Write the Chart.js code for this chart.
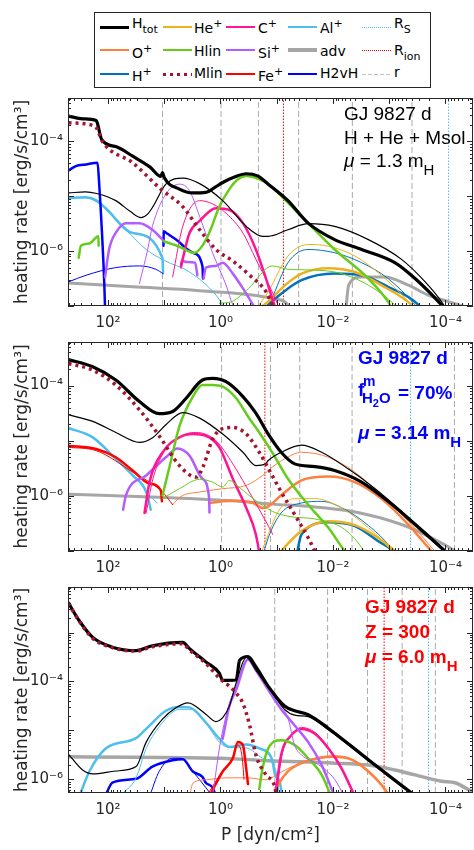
<!DOCTYPE html>
<html><head><meta charset="utf-8">
<script src="https://cdn.jsdelivr.net/npm/chart.js@4/dist/chart.umd.min.js"></script>
<style>
body{margin:0;width:474px;height:850px;background:#fff;position:relative;overflow:hidden;font-family:'DejaVu Sans',sans-serif}
canvas{position:absolute;left:0}
#leg{position:absolute;left:94px;top:12px;width:337px;height:76px;border:1px solid #262626;box-sizing:border-box;background:#fff;z-index:5}
.ls{position:absolute;width:29px}
.lt{position:absolute;font-size:14px;line-height:14px;color:#000;white-space:nowrap}
.sm{font-size:11px;position:relative}
.ann{position:absolute;font-family:'Liberation Sans',Arial,sans-serif;font-size:19px;line-height:19px;white-space:nowrap;z-index:4}
</style></head><body>
<div id="leg"></div>
<canvas id="c1" width="474" height="250" style="top:84px"></canvas>
<canvas id="c2" width="474" height="251" style="top:328px"></canvas>
<canvas id="c3" width="474" height="277" style="top:573px"></canvas>

<div class="ann" style="left:344px;top:104px;color:#000">GJ 9827 d</div>
<div class="ann" style="left:344px;top:128px;color:#000">H + He + Msol</div>
<div class="ann" style="left:344px;top:151px;color:#000"><i>μ</i> = 1.3 m<span style="font-size:15px;position:relative;top:8px">H</span></div>

<div class="ann" style="left:358px;top:348px;color:#0000FF;font-weight:bold">GJ 9827 d</div>
<div class="ann" style="left:358px;top:380px;color:#0000FF;font-weight:bold">f</div>
<div class="ann" style="left:363px;top:374px;color:#0000FF;font-weight:bold;font-size:14px;line-height:14px">m</div>
<div class="ann" style="left:362px;top:390px;color:#0000FF;font-weight:bold;font-size:15px;line-height:15px">H<span style="font-size:11px;position:relative;top:4px">2</span>O</div>
<div class="ann" style="left:398px;top:383px;color:#0000FF;font-weight:bold">= 70%</div>
<div class="ann" style="left:358px;top:423px;color:#0000FF;font-weight:bold"><i>μ</i> = 3.14 m<span style="font-size:15px;position:relative;top:8px">H</span></div>

<div class="ann" style="left:365px;top:597px;color:#FF0000;font-weight:bold">GJ 9827 d</div>
<div class="ann" style="left:365px;top:622px;color:#FF0000;font-weight:bold">Z = 300</div>
<div class="ann" style="left:365px;top:647px;color:#FF0000;font-weight:bold"><i>μ</i> = 6.0 m<span style="font-size:15px;position:relative;top:8px">H</span></div>

<script>
// ---- axes (log10 units) ----
const X_RANGE = [-4.49, 2.71];          // log10 P, axis reversed
const Y_RANGE_12 = [-7.0, -3.21];       // log10 heating rate, panels 1-2
const Y_RANGE_3 = [-6.28, -2.07];       // panel 3
const X_TICKS = [2, 0, -2, -4];
const Y_TICKS = [-6, -4];
const TICK_TEXT = {'2':'10\u00B2','0':'10\u2070','-2':'10\u207B\u00B2','-4':'10\u207B\u2074','-6':'10\u207B\u2076'};

// ---- Panel 1 : H + He + Msol  ([log10 P, log10 rate]; null = gap) ----
const P1_Htot = [[2.70,-3.54],[2.45,-3.59],[2.21,-3.62],[2.19,-3.66],[2.11,-3.97],[1.85,-4.10],[1.56,-4.27],[1.25,-4.47],[1.06,-4.64],[1.03,-4.57],[1.0,-4.66],[0.73,-4.87],[0.49,-4.94],[0.26,-4.93],[0.10,-4.84],[-0.04,-4.75],[-0.25,-4.65],[-0.46,-4.59],[-0.66,-4.63],[-0.85,-4.78],[-1.2,-5.08],[-1.56,-5.49],[-2.03,-5.79],[-2.51,-5.97],[-3.1,-6.21],[-3.46,-6.5],[-3.93,-6.98],[-4.2,-7.3]];
const P1_HtotThin = [[2.70,-4.94],[2.4,-4.92],[2.2,-4.95],[1.86,-5.08],[1.6,-5.28],[1.41,-5.39],[1.3,-5.33],[1.2,-5.19],[0.97,-4.78],[0.67,-4.67],[0.37,-4.77],[-0.04,-5.08],[-0.46,-5.55],[-0.75,-5.73],[-0.85,-5.73],[-1.2,-5.61],[-1.56,-5.5],[-2.03,-5.55],[-2.63,-5.79],[-3.22,-6.15],[-3.64,-6.56],[-3.93,-6.92],[-4.1,-7.2]];
const P1_Mlin = [[2.70,-3.66],[2.27,-3.71],[2.2,-3.76],[2.15,-3.88],[2.1,-4.0],[1.56,-4.39],[1.06,-4.87],[0.67,-5.19],[0.37,-5.61],[0.08,-5.97],[-0.22,-6.18],[-0.52,-6.44],[-0.81,-6.74],[-0.92,-6.98],[-1.0,-7.2]];
const P1_Al = [[2.70,-5.03],[2.4,-5.02],[2.2,-5.08],[2.04,-5.22],[1.56,-5.67],[1.03,-6.13],[1.02,-6.4]];
const P1_AlThin = [[2.70,-5.03],[2.4,-5.03],[2.15,-5.14],[1.74,-5.55],[1.32,-5.97],[1.0,-6.17],[0.55,-6.38],[0.08,-6.8],[-0.08,-7.05]];
const P1_H2vH = [[2.70,-4.53],[2.57,-4.45],[2.39,-4.42],[2.185,-4.39],[2.16,-4.7],[2.065,-6.59],[2.05,-7.1],null,[1.013,-5.9],[1.008,-5.64],[0.95,-5.68],[0.79,-5.79],[0.49,-6.03],[0.32,-6.27],[0.31,-6.5]];
const P1_H2vHThin = [[2.70,-6.56],[2.39,-6.44],[1.86,-6.3],[1.44,-6.27],[1.15,-6.33],[1.02,-6.41]];
const P1_Hlin = [[2.52,-6.12],[2.48,-5.90],[2.33,-5.86],[2.17,-5.73],[2.165,-5.9],null,[1.01,-5.82],[0.73,-5.92],[0.46,-6.03],[0.32,-5.9],[0.2,-5.67],[0.02,-5.19],[-0.16,-4.87],[-0.3,-4.7],[-0.46,-4.63],[-0.69,-4.69],[-0.85,-4.78],[-1.44,-5.37],[-2.03,-5.97],[-2.63,-6.5],[-2.98,-6.92],[-3.05,-7.05]];
const P1_HlinThin = [[0.02,-6.95],[-0.2,-6.92],[-0.5,-6.68],[-0.92,-6.27],[-1.2,-6.33],[-1.44,-6.34],[-2.03,-6.38],[-2.63,-6.62],[-3.1,-6.98],[-3.2,-7.1]];
const P1_Si = [[2.05,-6.47],[1.98,-5.97],[1.85,-5.65],[1.68,-5.49],[1.44,-5.49],[1.21,-5.61],[1.03,-5.79],null,[0.70,-6.3],[0.69,-6.18],[0.6,-6.2],[0.45,-6.21],[0.41,-6.44],null,[0.30,-6.5],[0.26,-6.3],[0.08,-6.27],[-0.04,-6.21],[-0.22,-6.41],[-0.4,-6.68],[-0.58,-6.98],[-0.65,-7.1]];
const P1_SiThin = [[1.44,-6.59],[1.3,-6.0],[1.21,-5.55],[0.97,-4.96],[0.73,-4.78],[0.55,-4.9],[0.37,-5.37],[0.14,-6.03],[-0.1,-6.62],[-0.22,-6.98],[-0.3,-7.1]];
const P1_C = [[0.70,-6.27],[0.55,-5.67],[0.37,-5.45],[0.08,-5.22],[-0.16,-5.25],[-0.4,-5.49],[-0.63,-5.97],[-0.81,-6.5],[-0.92,-6.86],[-1.0,-7.1]];
const P1_CThin = [[0.85,-6.47],[0.67,-5.55],[0.37,-5.08],[0.14,-5.14],[-0.1,-5.31],[-0.4,-5.67],[-0.63,-6.15],[-0.92,-6.74],[-1.05,-7.05]];
const P1_He = [[-0.6,-7.1],[-0.85,-6.92],[-1.15,-6.62],[-1.44,-6.41],[-1.92,-6.31],[-2.39,-6.38],[-2.86,-6.62],[-3.4,-6.98],[-3.5,-7.1]];
const P1_HeThin = [[-0.6,-7.1],[-0.85,-6.74],[-1.2,-6.09],[-1.56,-5.88],[-1.92,-5.91],[-2.39,-6.09],[-2.86,-6.44],[-3.4,-6.98],[-3.5,-7.1]];
const P1_Hp = [[-0.75,-7.1],[-0.85,-6.98],[-1.15,-6.72],[-1.44,-6.53],[-2.03,-6.41],[-2.5,-6.44],[-2.98,-6.65],[-3.52,-6.98],[-3.6,-7.1]];
const P1_HpThin = [[-0.8,-7.1],[-0.9,-6.9],[-1.2,-6.21],[-1.56,-5.97],[-2.03,-6.03],[-2.51,-6.21],[-2.98,-6.5],[-3.46,-6.98],[-3.55,-7.1]];
const P1_adv = [[2.70,-6.58],[1.56,-6.65],[0.37,-6.72],[-0.92,-6.86],[-1.2,-6.98],[-1.25,-7.1],null,[-2.23,-7.1],[-2.25,-6.85],[-2.28,-6.62],[-2.5,-6.47],[-2.92,-6.47],[-3.34,-6.62],[-3.69,-6.8],[-4.05,-6.92],[-4.3,-7.0],[-4.5,-7.05]];
const P1_r = [1.03, -0.01, -0.675, -1.39, -2.345, -3.405];
const P1_Rion = [-1.12];
const P1_RS = [-4.056];

// ---- Panel 2 : f_H2O = 70% ----
const P2_Htot = [[2.70,-3.53],[2.27,-3.66],[1.86,-3.9],[1.44,-4.29],[1.09,-4.51],[0.85,-4.47],[0.61,-4.23],[0.32,-3.9],[0.14,-3.87],[-0.1,-3.93],[-0.4,-4.2],[-0.63,-4.5],[-0.85,-4.88],[-1.08,-5.21],[-1.32,-5.42],[-1.68,-5.47],[-2.03,-5.54],[-2.51,-5.75],[-2.98,-6.1],[-3.46,-6.52],[-3.99,-7.0],[-4.1,-7.1]];
const P2_HtotThin = [[2.70,-4.53],[2.27,-4.65],[1.86,-4.85],[1.44,-5.03],[1.2,-4.94],[0.97,-4.71],[0.67,-4.49],[0.37,-4.59],[-0.04,-4.88],[-0.4,-5.21],[-0.63,-5.45],[-0.8,-5.42],[-0.85,-5.36],[-1.08,-5.21],[-1.44,-5.08],[-1.8,-5.21],[-2.27,-5.51],[-2.75,-5.87],[-3.22,-6.28],[-3.69,-6.7],[-4.0,-7.0],[-4.1,-7.1]];
const P2_Mlin = [[2.70,-3.6],[2.27,-3.72],[1.86,-3.99],[1.44,-4.44],[1.09,-4.91],[0.73,-5.45],[0.43,-5.66],[0.3,-5.45],[0.14,-4.97],[-0.04,-4.78],[-0.22,-4.76],[-0.46,-4.88],[-0.69,-5.21],[-0.92,-5.63],[-1.08,-5.93],[-1.32,-6.34],[-1.56,-6.76],[-1.7,-7.05]];
const P2_Hlin = [[1.03,-5.99],[0.9,-5.45],[0.73,-4.74],[0.49,-4.2],[0.32,-3.99],[0.14,-3.99],[-0.04,-4.02],[-0.28,-4.23],[-0.49,-4.56],[-0.69,-4.85],[-0.92,-5.21],[-1.2,-5.69],[-1.56,-6.16],[-1.92,-6.58],[-2.21,-7.0],[-2.3,-7.1]];
const P2_HlinThin = [[1.03,-6.05],[0.73,-5.87],[0.37,-5.7],[0.14,-5.75],[-0.04,-5.84],[-0.16,-5.72],[-0.28,-5.8],[-0.58,-6.05],[-0.92,-6.28],[-1.2,-6.37],[-1.74,-6.43],[-2.21,-6.61],[-2.55,-7.0],[-2.6,-7.1]];
const P2_Fe = [[2.70,-5.09],[2.21,-5.15],[1.86,-5.3],[1.56,-5.54],[1.26,-5.78],[1.06,-5.9],[1.04,-6.1]];
const P2_FeThin = [[2.70,-5.12],[2.21,-5.18],[1.56,-5.57],[1.03,-5.93],[0.85,-6.16]];
const P2_Al = [[2.70,-4.77],[2.27,-4.94],[1.86,-5.33],[1.56,-5.63],[1.32,-5.93],[1.24,-6.25]];
const P2_AlThin = [[1.32,-5.95],[1.12,-6.13]];
const P2_Si = [[1.73,-6.25],[1.68,-5.99],[1.32,-5.63],[0.97,-5.3],[0.76,-5.14],[0.55,-5.27],[0.32,-5.69],[0.2,-6.05],[0.195,-6.3]];
const P2_C = [[1.35,-6.31],[1.26,-5.75],[1.03,-5.21],[0.73,-4.94],[0.49,-4.88],[0.26,-4.91],[0.02,-5.12],[-0.22,-5.69],[-0.46,-6.22],[-0.63,-6.7],[-0.69,-7.03],[-0.7,-7.1]];
const P2_CThin = [[1.32,-6.31],[1.2,-5.69],[0.97,-5.15],[0.61,-4.88],[0.43,-4.85],[0.08,-5.0],[-0.22,-5.42],[-0.58,-6.05],[-0.87,-6.58],[-0.93,-6.7]];
const P2_O = [[0.2,-6.13],[-0.04,-6.1],[-0.22,-6.09],[-0.58,-6.13],[-0.75,-6.22],[-0.85,-6.19],[-1.08,-5.99],[-1.44,-5.72],[-1.92,-5.65],[-2.39,-5.75],[-2.86,-6.05],[-3.34,-6.52],[-3.75,-7.0],[-3.85,-7.1]];
const P2_OThin = [[0.85,-6.16],[0.7,-6.01],[0.37,-5.93],[-0.04,-5.87],[-0.46,-5.81],[-0.75,-5.63],[-0.92,-5.48],[-1.14,-5.33],[-1.44,-5.21],[-1.92,-5.3],[-2.39,-5.57],[-2.86,-5.99],[-3.34,-6.46],[-3.81,-7.0],[-3.9,-7.1]];
const P2_He = [[-1.0,-7.1],[-1.08,-7.0],[-1.44,-6.64],[-1.92,-6.46],[-2.39,-6.53],[-2.8,-6.76],[-3.1,-7.0],[-3.2,-7.1]];
const P2_HeThin = [[-0.7,-7.1],[-0.85,-6.7],[-1.03,-6.28],[-1.32,-6.05],[-1.68,-6.05],[-2.15,-6.22],[-2.63,-6.58],[-3.04,-7.0],[-3.1,-7.1]];
const P2_Hp = [[-1.35,-7.1],[-1.44,-6.7],[-1.92,-6.48],[-2.39,-6.55],[-2.8,-6.82],[-3.05,-7.0],[-3.1,-7.1]];
const P2_HpThin = [[-0.75,-7.1],[-0.85,-6.76],[-1.08,-6.31],[-1.44,-6.13],[-1.8,-6.1],[-2.27,-6.28],[-2.75,-6.64],[-3.1,-7.0],[-3.2,-7.1]];
const P2_adv = [[2.70,-5.97],[0.97,-6.03],[-0.22,-6.09],[-0.92,-6.15],[-1.56,-6.19],[-2.33,-6.28],[-3.22,-6.52],[-3.69,-6.73],[-4.17,-7.0],[-4.3,-7.1]];
const P2_r = [-0.02, -0.89, -1.41, -2.34, -4.16];
const P2_Rion = [-0.79];
const P2_RS = [-3.38];

// ---- Panel 3 : Z = 300 ----
const P3_Htot = [[2.70,-2.4],[2.51,-2.76],[2.27,-3.1],[1.92,-3.3],[1.5,-3.37],[1.21,-3.27],[0.67,-3.2],[0.55,-3.33],[0.26,-3.6],[0.02,-3.83],[-0.04,-3.98],[-0.28,-3.97],[-0.34,-3.57],[-0.49,-3.49],[-0.63,-3.7],[-0.85,-4.1],[-1.14,-4.5],[-1.32,-4.6],[-1.56,-4.68],[-1.91,-4.95],[-2.63,-5.6],[-3.4,-6.28],[-3.6,-6.45]];
const P3_HtotThin = [[2.70,-5.49],[2.45,-5.81],[2.27,-5.89],[1.86,-5.83],[1.5,-5.74],[1.32,-5.24],[1.03,-4.77],[0.79,-4.54],[0.58,-4.44],[0.49,-4.47],[0.26,-4.67],[0.08,-4.82],[-0.04,-4.74],[-0.16,-4.5],[-0.28,-4.03],[-0.46,-3.51],[-0.63,-3.77],[-0.92,-4.23],[-1.14,-4.57],[-1.32,-4.69],[-1.56,-4.72],[-1.91,-4.98],[-2.63,-5.62],[-3.4,-6.3],[-3.6,-6.45]];
const P3_Mlin = [[2.70,-2.4],[2.51,-2.77],[2.27,-3.12],[1.92,-3.31],[1.5,-3.38],[1.21,-3.29],[0.67,-3.23],[0.55,-3.36],[0.26,-3.63],[0.02,-3.93],[-0.16,-4.1],[-0.28,-4.24],[-0.4,-4.45],[-0.52,-4.9],[-0.63,-5.5],[-0.81,-5.91],[-0.95,-6.1],[-1.0,-6.35]];
const P3_Al = [[2.51,-6.35],[2.33,-5.84],[2.04,-5.37],[1.5,-5.16],[1.32,-4.97],[0.97,-4.6],[0.73,-4.52],[0.55,-4.53],[0.26,-4.84],[0.02,-5.17],[-0.16,-5.34],[-0.46,-5.29],[-0.69,-5.37],[-0.92,-5.6],[-0.97,-5.91],[-1.05,-6.04],[-1.1,-6.35]];
const P3_AlThin = [[1.8,-6.35],[1.5,-5.97],[1.32,-5.37],[1.03,-4.84],[0.73,-4.57],[0.49,-4.57],[0.26,-4.84],[0.02,-5.24],[-0.16,-5.35],[-0.46,-5.36],[-0.75,-5.57],[-0.92,-5.67],[-1.0,-5.9],[-1.05,-6.35]];
const P3_H2vH = [[2.05,-6.35],[1.92,-6.07],[1.5,-5.99],[1.21,-5.74],[0.85,-5.61],[0.67,-5.59],[0.49,-5.84],[0.32,-5.95],[0.26,-6.07],[0.14,-6.17],[0.08,-6.35]];
const P3_H2vHThin = [[1.26,-6.35],[1.09,-5.84],[0.85,-5.57],[0.7,-5.57],[0.49,-5.84],[0.26,-6.17],[0.14,-6.35]];
const P3_adv = [[2.70,-5.54],[1.5,-5.55],[0.0,-5.57],[-0.85,-5.62],[-2.03,-5.67],[-2.63,-5.71],[-3.1,-5.81],[-3.46,-5.91],[-3.93,-6.04],[-4.17,-6.07],[-4.41,-6.21],[-4.5,-6.25]];
const P3_Si = [[-0.04,-5.17],[-0.16,-4.5],[-0.28,-4.17],[-0.49,-3.55],[-0.63,-3.77],[-0.85,-4.17],[-1.08,-4.57],[-1.32,-4.9],[-1.56,-5.24],[-1.8,-5.71],[-2.03,-6.35]];
const P3_SiThin = [[0.14,-6.35],[0.0,-5.24],[-0.16,-4.45],[-0.28,-4.1],[-0.49,-3.53],[-0.63,-3.77],[-0.85,-4.17],[-1.2,-4.75],[-1.32,-5.31],[-1.44,-5.5],[-1.74,-5.7],[-2.03,-6.0],[-2.2,-6.35]];
const P3_Fe = [[0.2,-6.35],[-0.04,-5.84],[-0.22,-5.57],[-0.31,-5.24],[-0.4,-5.3],[-0.45,-5.7],[-0.49,-6.1]];
const P3_FeThin = [[0.25,-6.35],[0.0,-5.9],[-0.2,-5.62],[-0.3,-5.3],[-0.38,-5.5],[-0.42,-6.0]];
const P3_Hlin = [[-0.69,-6.2],[-0.75,-5.77],[-0.85,-5.37],[-1.08,-5.2],[-1.32,-5.3],[-1.56,-5.57],[-1.8,-5.91],[-1.97,-6.35]];
const P3_C = [[-0.97,-6.35],[-1.08,-5.5],[-1.26,-5.1],[-1.44,-4.97],[-1.68,-5.07],[-1.92,-5.37],[-2.15,-5.77],[-2.39,-6.35]];
const P3_CThin = [[-0.99,-6.35],[-1.1,-5.47],[-1.28,-5.07],[-1.44,-4.94],[-1.68,-5.04],[-1.92,-5.35],[-2.15,-5.75],[-2.4,-6.35]];
const P3_O = [[-0.95,-6.35],[-1.03,-6.11],[-1.2,-5.84],[-1.44,-5.67],[-1.74,-5.57],[-2.03,-5.54],[-2.33,-5.6],[-2.63,-5.84],[-2.86,-6.11],[-3.01,-6.35]];
const P3_OThin = [[0.55,-6.35],[0.49,-6.08],[0.26,-6.01],[-0.1,-5.97],[-0.46,-5.97],[-0.81,-6.01],[-0.85,-6.0],[-1.2,-5.78],[-1.74,-5.55],[-2.03,-5.52],[-2.33,-5.58],[-2.63,-5.82],[-2.86,-6.09],[-3.03,-6.35]];
const P3_r = [-0.966, -1.905, -2.614, -3.23, -3.82];
const P3_Rion = [-2.91];
const P3_RS = [-3.70];

// ---- styles ----
const C = {Htot:'#000000',O:'#FF7F3F',Hp:'#0072BD',He:'#EDB120',Hlin:'#66CC1A',Mlin:'#A2142F',
  C:'#FF1493',Si:'#B35CFF',Fe:'#FF0000',Al:'#4DBEEE',adv:'#A6A6A6',H2vH:'#0000FF',RS:'#4DBEEE',Rion:'#FF0000',r:'#ABABAB'};
const THICK = 2.5, THIN = 1;

function pieces(arr){const out=[];let cur=[];for(const p of arr){if(p===null){if(cur.length)out.push(cur);cur=[];}else cur.push(p);}if(cur.length)out.push(cur);return out;}
function ds(arr,color,w,dash){
  return pieces(arr).map(pc=>({data:pc.map(([a,b])=>({x:Math.pow(10,a),y:Math.pow(10,b)})),
    borderColor:color,borderWidth:w,borderDash:dash||[],borderCapStyle:dash?'butt':'round',borderJoinStyle:'round',
    pointRadius:0,pointHoverRadius:0,fill:false,cubicInterpolationMode:'monotone',order:1}));
}
function vl(list,yr,color,dash){
  return list.map(p=>({data:[{x:Math.pow(10,p),y:Math.pow(10,yr[0])},{x:Math.pow(10,p),y:Math.pow(10,yr[1])}],
    borderColor:color,borderWidth:1,borderDash:dash,pointRadius:0,fill:false,tension:0,order:5}));
}

const frame = {id:'frame', afterDraw(ch){
  const {ctx,chartArea:a,scales:{x,y}} = ch;
  ctx.save(); ctx.strokeStyle='#262626'; ctx.lineWidth=1;
  ctx.strokeRect(a.left+0.5,a.top+0.5,a.right-a.left-1,a.bottom-a.top-1);
  ctx.beginPath();
  for(let d=-6; d<=3; d++) for(let m=1;m<=9;m++){
    const v=m*Math.pow(10,d);
    if(v>=x.min && v<=x.max){const px=Math.round(x.getPixelForValue(v))+0.5, L=m===1?6:3;
      ctx.moveTo(px,a.bottom);ctx.lineTo(px,a.bottom-L);ctx.moveTo(px,a.top);ctx.lineTo(px,a.top+L);}
  }
  for(let d=-8; d<=-1; d++) for(let m=1;m<=9;m++){
    const v=m*Math.pow(10,d);
    if(v>=y.min && v<=y.max){const py=Math.round(y.getPixelForValue(v))+0.5, L=m===1?6:3;
      ctx.moveTo(a.left,py);ctx.lineTo(a.left+L,py);ctx.moveTo(a.right,py);ctx.lineTo(a.right-L,py);}
  }
  ctx.stroke(); ctx.restore();
}};

function makeChart(id, yr, xAxisH, showXTitle, datasets){
  new Chart(document.getElementById(id), {
    type:'line',
    data:{datasets},
    options:{
      responsive:false, animation:false, devicePixelRatio:1,
      layout:{padding:{top:10,right:1,left:0,bottom:0}},
      plugins:{legend:{display:false},tooltip:{enabled:false}},
      events:[],
      scales:{
        x:{type:'logarithmic',reverse:true,min:Math.pow(10,X_RANGE[0]),max:Math.pow(10,X_RANGE[1]),
          afterBuildTicks:s=>{s.ticks=X_TICKS.map(e=>({value:Math.pow(10,e)}));},
          afterFit:s=>{s.height=xAxisH;},
          grid:{display:false,drawTicks:false},border:{display:false},
          ticks:{autoSkip:false,maxRotation:0,padding:8,color:'#262626',font:{family:'DejaVu Sans',size:15},
            callback:v=>TICK_TEXT[String(Math.round(Math.log10(v)))]},
          title:{display:showXTitle,text:'P [dyn/cm\u00B2]',color:'#262626',font:{family:'DejaVu Sans',size:17},padding:{top:0,bottom:4}}},
        y:{type:'logarithmic',min:Math.pow(10,yr[0]),max:Math.pow(10,yr[1]),
          afterBuildTicks:s=>{s.ticks=Y_TICKS.map(e=>({value:Math.pow(10,e)}));},
          afterFit:s=>{s.width=68;},
          grid:{display:false,drawTicks:false},border:{display:false},
          ticks:{autoSkip:false,padding:5,color:'#262626',font:{family:'DejaVu Sans',size:15},
            callback:v=>TICK_TEXT[String(Math.round(Math.log10(v)))]},
          title:{display:true,text:'heating rate [erg/s/cm\u00B3]',color:'#262626',font:{family:'DejaVu Sans',size:17},padding:{top:12,bottom:0}}}
      }
    },
    plugins:[frame]
  });
}

function panel(S, yr){
  return [].concat(
    ds(S.Mlin,C.Mlin,3.5,[3,4]),
    ds(S.Htot,C.Htot,3.2),
    ds(S.HtotThin,C.Htot,1.2),
    ...(S.extra||[]),
    vl(S.r,yr,C.r,[6,3]), vl(S.Rion,yr,C.Rion,[1.5,1.5]), vl(S.RS,yr,C.RS,[1.5,1.5])
  );
}

const d1 = panel({Mlin:P1_Mlin,Htot:P1_Htot,HtotThin:P1_HtotThin,r:P1_r,Rion:P1_Rion,RS:P1_RS,extra:[
  ds(P1_Hlin,C.Hlin,THICK), ds(P1_HlinThin,C.Hlin,THIN), ds(P1_C,C.C,THICK), ds(P1_CThin,C.C,THIN),
  ds(P1_Si,C.Si,THICK), ds(P1_SiThin,C.Si,THIN), ds(P1_H2vH,C.H2vH,THICK), ds(P1_H2vHThin,C.H2vH,THIN),
  ds(P1_Al,C.Al,THICK), ds(P1_AlThin,C.Al,THIN), ds(P1_He,C.He,THICK), ds(P1_HeThin,C.He,THIN),
  ds(P1_Hp,C.Hp,THICK), ds(P1_HpThin,C.Hp,THIN), ds(P1_adv,C.adv,3)]}, Y_RANGE_12);
const d2 = panel({Mlin:P2_Mlin,Htot:P2_Htot,HtotThin:P2_HtotThin,r:P2_r,Rion:P2_Rion,RS:P2_RS,extra:[
  ds(P2_Hlin,C.Hlin,THICK), ds(P2_HlinThin,C.Hlin,THIN), ds(P2_C,C.C,THICK), ds(P2_CThin,C.C,THIN),
  ds(P2_Si,C.Si,THICK), ds(P2_Fe,C.Fe,THICK), ds(P2_FeThin,C.Fe,THIN), ds(P2_Al,C.Al,THICK), ds(P2_AlThin,C.Al,THIN),
  ds(P2_O,C.O,THICK), ds(P2_OThin,C.O,THIN), ds(P2_He,C.He,THICK), ds(P2_HeThin,C.He,THIN),
  ds(P2_Hp,C.Hp,THICK), ds(P2_HpThin,C.Hp,THIN), ds(P2_adv,C.adv,3)]}, Y_RANGE_12);
const d3 = panel({Mlin:P3_Mlin,Htot:P3_Htot,HtotThin:P3_HtotThin,r:P3_r,Rion:P3_Rion,RS:P3_RS,extra:[
  ds(P3_Si,C.Si,THICK), ds(P3_SiThin,C.Si,THIN), ds(P3_Fe,C.Fe,THICK), ds(P3_FeThin,C.Fe,THIN),
  ds(P3_Hlin,C.Hlin,THICK), ds(P3_C,C.C,THICK), ds(P3_CThin,C.C,THIN), ds(P3_O,C.O,THICK), ds(P3_OThin,C.O,THIN),
  ds(P3_Al,C.Al,THICK), ds(P3_AlThin,C.Al,THIN), ds(P3_H2vH,C.H2vH,THICK), ds(P3_H2vHThin,C.H2vH,THIN),
  ds(P3_adv,C.adv,3.5)]}, Y_RANGE_3);

makeChart('c1', Y_RANGE_12, 28, false, d1.flat());
makeChart('c2', Y_RANGE_12, 28, false, d2.flat());
makeChart('c3', Y_RANGE_3, 57, true, d3.flat());

// ---- legend ----
const LEG_COL_LINE = [5, 68, 131, 193, 267];
const LEG_COL_TEXT = [37, 99, 163, 225, 299];
const LEG_ROW_LINE = [14, 37, 61];
const SUPP = t=>`<span class="sm" style="top:-6px">${t}</span>`;
const SUBB = t=>`<span class="sm" style="top:5px">${t}</span>`;
const LEG = [
  [0,0,'H'+SUBB('tot'),C.Htot,'solid',3,3],
  [0,1,'O'+SUPP('+'),C.O,'solid',2,33.3],
  [0,2,'H'+SUPP('+'),C.Hp,'solid',2,56],
  [1,0,'He'+SUPP('+'),C.He,'solid',2,8.3],
  [1,1,'Hlin',C.Hlin,'solid',2,31],
  [1,2,'Mlin',C.Mlin,'dot',3,53.3],
  [2,0,'C'+SUPP('+'),C.C,'solid',2,8.3],
  [2,1,'Si'+SUPP('+'),C.Si,'solid',2,33.3],
  [2,2,'Fe'+SUPP('+'),C.Fe,'solid',2,56],
  [3,0,'Al'+SUPP('+'),C.Al,'solid',2,8.3],
  [3,1,'adv',C.adv,'solid',4,31.3],
  [3,2,'H2vH',C.H2vH,'solid',2,52.6],
  [4,0,'R'+SUBB('S'),C.RS,'fine',1,3],
  [4,1,'R'+SUBB('ion'),C.Rion,'fine',1,30],
  [4,2,'r','#BFBFBF','dash',1,52]
];
const leg = document.getElementById('leg');
for(const [col,row,txt,color,kind,w,tt] of LEG){
  const ln=document.createElement('div'); ln.className='ls';
  ln.style.left=LEG_COL_LINE[col]+'px'; ln.style.top=(LEG_ROW_LINE[row]-w/2)+'px'; ln.style.height=w+'px';
  if(kind==='solid') ln.style.background=color;
  else if(kind==='dot') ln.style.background=`repeating-linear-gradient(90deg,${color} 0 3px,transparent 3px 7px)`;
  else if(kind==='fine') ln.style.background=`repeating-linear-gradient(90deg,${color} 0 1px,transparent 1px 2px)`;
  else ln.style.background=`repeating-linear-gradient(90deg,${color} 0 4px,transparent 4px 6px)`;
  leg.appendChild(ln);
  const t=document.createElement('div'); t.className='lt'; t.innerHTML=txt;
  t.style.left=LEG_COL_TEXT[col]+'px'; t.style.top=tt+'px';
  leg.appendChild(t);
}
</script>
</body></html>
